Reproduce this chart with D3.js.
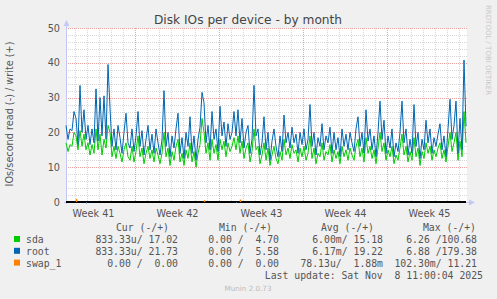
<!DOCTYPE html>
<html>
<head>
<meta charset="utf-8">
<script src="https://cdn.jsdelivr.net/npm/d3@7"></script>
<style>
  body { margin: 0; background: #f0f0f0; }
  svg { display: block; }
  text { white-space: pre; }
</style>
</head>
<body>
<script>
// chart data (one point every 4 hours)
var startTime = Date.UTC(2025, 9, 6, 6, 0);
var stepHours = 4;

var sdaWrite = [17,14.5,16.5,16,20,19,15,20.5,16,19.5,15,17,13.5,16.5,14,21,15,19.5,13.5,18,
  15.5,22,20,13,16,12.5,16,14,11.5,15,17,13,12,16,11.5,14.5,19,13,15.5,11,
  14,16,12.5,15,11.5,15.5,13.5,11,14,20,13,15.5,10.5,14.5,12,16,18,11.5,14,10.5,
  15,12.5,17,11.5,14.5,10,14,16.5,24,20,14,17,12,18,14,16.5,12,18,15,17.5,
  13,17,14.5,16,18.5,15,19,14,17.5,12.5,15.5,17,11.5,14.5,21,15,16,11,13.5,17,
  12,15.5,10.5,13.5,16,12.5,11,14.5,12,18,13.5,15.5,12.5,16.5,14,15,11.5,15.5,13,16,
  12,14,19,12.5,15.5,11,14,13,17,12,14.5,13.5,16.5,11.5,15,12.5,14.5,11,16,13,
  15,12,15.5,13.5,12,16,18,13,15.5,11.5,18.5,14,16,12.5,15,11,15.5,20,14.5,17,
  12,15,13,16,11,13.5,12,15.5,19.5,13.5,16,11.5,14.5,12,18.5,13,15.5,10.5,14.5,12.5,
  17,14,16,12,15,13,15.5,17,12.5,15,11.5,16,20,14.5,17,20,12,17.5,13,26,17.02];

var rootWrite = [22,18,21,20.5,26,24,16.5,33.5,20,26.5,18,22,16.5,21,17,32.5,17.5,30,19,30.5,
  18,39.5,27,16,21,15,22,18.5,14,20,25.5,17,15.5,21,14.5,19,26,16,20.5,13.5,
  18,22,15,19.5,14,21,17,13.5,18,32,16,20,13,19,15.5,21,25.5,14,18.5,12.5,
  20,16,24.5,14,19,12,18,21.5,31.5,28.5,17,22,15,26,18,21,14.5,27.5,19,23,
  16,22.5,18,20,26,19,26.5,17,24,15.5,20,22,14,18,33.5,19,21,13.5,17,24.5,
  15,20,12,17.5,21,16,13,19,14.5,25,17,20,15.5,21.5,17,19.5,14,20,16.5,21,
  15,18,28,16,20,13.5,18.5,16,22.5,15,19,17,21.5,14,20,15,18.5,13,21,16,
  19.5,15,20,17,14.5,21,24.5,16,20,14,26.5,17.5,21,15,19,13,20,29,18,23.5,
  14,19,15.5,21,13,17,14.5,20,29,17,21,13.5,18,14,28,16,20,12.5,18,15,
  23.5,17,21,14,18.5,16,19.5,22.5,15,19,13,21,29.5,18,22,29,14,24,15,40.8,21.73];

// swap_1 writes: only a few tiny blips, [point index, value]
var swapBlips = [[5, 0.9], [69, 0.5], [87, 0.7]];
// root reads: tiny dips below zero, [point index, value]
var rootReadBlips = [[10, 0.4], [85, 0.3]];

var yTicks = [0, 10, 20, 30, 40, 50];
var weekStarts = [Date.UTC(2025, 9, 12), Date.UTC(2025, 9, 19), Date.UTC(2025, 9, 26), Date.UTC(2025, 10, 2)];
var weekLabelTimes = [Date.UTC(2025, 9, 8, 12), Date.UTC(2025, 9, 15, 12), Date.UTC(2025, 9, 22, 12),
  Date.UTC(2025, 9, 29, 12), Date.UTC(2025, 10, 5, 12)];
var weekLabels = ["Week 41", "Week 42", "Week 43", "Week 44", "Week 45"];

var legendNames = ["sda", "root", "swap_1"];
var legendColors = ["#00cc00", "#0066b3", "#ff8000"];
var legendHeaders = ["Cur (-/+)", "Min (-/+)", "Avg (-/+)", "Max (-/+)"];
var legendValues = [
  ["833.33u/ 17.02", "0.00 /  4.70", "6.00m/ 15.18", "6.26 /100.68"],
  ["833.33u/ 21.73", "0.00 /  5.58", "6.17m/ 19.22", "6.88 /179.38"],
  ["0.00 /  0.00", "0.00 /  0.00", "78.13u/  1.88m", "102.30m/ 11.21"]
];

var svgWidth = 497, svgHeight = 299;
var margin = { top: 28, left: 66, right: 30, bottom: 97 };
var width = 401;
var height = 174;

var svg = d3.select("body").append("svg")
  .attr("width", svgWidth)
  .attr("height", svgHeight);

svg.append("rect").attr("width", svgWidth).attr("height", svgHeight).attr("fill", "#f0f0f0");

var x = d3.scaleUtc()
  .domain([startTime, Date.UTC(2025, 10, 8, 16)])
  .range([margin.left, margin.left + width]);
var y = d3.scaleLinear()
  .domain([0, 50])
  .range([margin.top + height, margin.top]);

// plot canvas
svg.append("rect")
  .attr("x", margin.left).attr("y", margin.top)
  .attr("width", width).attr("height", height)
  .attr("fill", "#ffffff");

// minor grid
var days = d3.utcDay.range(new Date(startTime), new Date(Date.UTC(2025, 10, 8, 16)));
svg.append("g").selectAll("line").data(days).enter().append("line")
  .attr("x1", d => x(d) + 0.5).attr("x2", d => x(d) + 0.5)
  .attr("y1", margin.top).attr("y2", margin.top + height)
  .attr("stroke", "#d6d6d6").attr("stroke-dasharray", "1,1");
svg.append("g").selectAll("line").data(d3.range(2, 50, 2)).enter().append("line")
  .attr("x1", margin.left).attr("x2", margin.left + width)
  .attr("y1", d => Math.round(y(d)) + 0.5).attr("y2", d => Math.round(y(d)) + 0.5)
  .attr("stroke", "#d6d6d6").attr("stroke-dasharray", "1,1");

// major grid
svg.append("g").selectAll("line").data(weekStarts).enter().append("line")
  .attr("x1", d => x(d) + 0.5).attr("x2", d => x(d) + 0.5)
  .attr("y1", margin.top).attr("y2", margin.top + height)
  .attr("stroke", "#e8a0a0").attr("stroke-dasharray", "1,1");
svg.append("g").selectAll("line").data(yTicks.slice(1)).enter().append("line")
  .attr("x1", margin.left).attr("x2", margin.left + width)
  .attr("y1", d => Math.round(y(d)) + 0.5).attr("y2", d => Math.round(y(d)) + 0.5)
  .attr("stroke", "#e8a0a0").attr("stroke-dasharray", "1,1");

// axes
var yAxis = d3.axisLeft(y).tickValues(yTicks).tickSize(0).tickPadding(6);
svg.append("g")
  .attr("transform", "translate(" + margin.left + ",0)")
  .call(yAxis)
  .call(g => g.select(".domain").remove())
  .selectAll("text")
  .attr("font-family", "DejaVu Sans").attr("font-size", "9.7px").attr("fill", "#555");

var xAxis = d3.axisBottom(x).tickValues(weekLabelTimes).tickSize(0).tickPadding(8)
  .tickFormat((d, i) => weekLabels[i]);
svg.append("g")
  .attr("transform", "translate(0," + (margin.top + height) + ")")
  .call(xAxis)
  .call(g => g.select(".domain").remove())
  .selectAll("text")
  .attr("font-family", "DejaVu Sans").attr("font-size", "9.7px").attr("fill", "#555");

// axis lines with arrows
var axisColor = "#c4c8f4";
svg.append("line")
  .attr("x1", margin.left + 0.5).attr("x2", margin.left + 0.5)
  .attr("y1", margin.top - 4).attr("y2", margin.top + height + 2)
  .attr("stroke", axisColor);
svg.append("path")
  .attr("d", "M" + (margin.left - 2.5) + "," + (margin.top - 2) + "L" + (margin.left + 0.5) + "," + (margin.top - 8) + "L" + (margin.left + 3.5) + "," + (margin.top - 2) + "Z")
  .attr("fill", axisColor);
svg.append("line")
  .attr("x1", margin.left - 2).attr("x2", margin.left + width + 4)
  .attr("y1", margin.top + height + 0.5).attr("y2", margin.top + height + 0.5)
  .attr("stroke", axisColor);
svg.append("path")
  .attr("d", "M" + (margin.left + width + 2) + "," + (margin.top + height - 2.5) + "L" + (margin.left + width + 8) + "," + (margin.top + height + 0.5) + "L" + (margin.left + width + 2) + "," + (margin.top + height + 3.5) + "Z")
  .attr("fill", axisColor);

// series
function timeAt(i) { return startTime + i * stepHours * 3600 * 1000; }
var line = d3.line()
  .x((d, i) => x(timeAt(i)))
  .y(d => y(d));

svg.append("path").datum(sdaWrite)
  .attr("d", line).attr("fill", "none")
  .attr("stroke", legendColors[0]).attr("stroke-width", 1);
svg.append("path").datum(rootWrite)
  .attr("d", line).attr("fill", "none")
  .attr("stroke", legendColors[1]).attr("stroke-width", 1);

// zero line (reads are ~0)
svg.append("line")
  .attr("x1", margin.left).attr("x2", margin.left + width - 1)
  .attr("y1", y(0)).attr("y2", y(0))
  .attr("stroke", "#000").attr("stroke-width", 2);

svg.append("g").selectAll("line").data(swapBlips).enter().append("line")
  .attr("x1", d => x(timeAt(d[0])) + 0.5).attr("x2", d => x(timeAt(d[0])) + 0.5)
  .attr("y1", y(0)).attr("y2", d => y(d[1]))
  .attr("stroke", legendColors[2]).attr("stroke-width", 1.5);
svg.append("g").selectAll("line").data(rootReadBlips).enter().append("line")
  .attr("x1", d => x(timeAt(d[0])) + 0.5).attr("x2", d => x(timeAt(d[0])) + 0.5)
  .attr("y1", y(0)).attr("y2", d => y(0) + (y(0) - y(d[1])))
  .attr("stroke", legendColors[1]).attr("stroke-width", 1);

// title and labels
svg.append("text")
  .attr("x", 248).attr("y", 24)
  .attr("text-anchor", "middle")
  .attr("font-family", "DejaVu Sans").attr("font-size", "12.2px").attr("fill", "#444")
  .text("Disk IOs per device - by month");

svg.append("text")
  .attr("transform", "translate(13," + (margin.top + height / 2 - 1) + ") rotate(-90)")
  .attr("text-anchor", "middle")
  .attr("font-family", "DejaVu Sans").attr("font-size", "9.7px").attr("fill", "#555")
  .text("IOs/second read (-) / write (+)");

svg.append("text")
  .attr("transform", "translate(486,5) rotate(90)")
  .attr("font-family", "DejaVu Sans").attr("font-size", "7px").attr("fill", "#c8c8c8")
  .text("RRDTOOL / TOBI OETIKER");

// legend
var mono = "DejaVu Sans Mono";
var colEnds = [178, 279, 383, 477];
var headerEnds = [169, 272, 374, 476];
svg.append("g").selectAll("text").data(legendHeaders).enter().append("text")
  .attr("x", (d, i) => headerEnds[i]).attr("y", 231)
  .attr("text-anchor", "end")
  .attr("font-family", mono).attr("font-size", "9.8px").attr("fill", "#555")
  .text(d => d);

legendNames.forEach(function(name, r) {
  var rowY = 243 + r * 11.8;
  svg.append("rect")
    .attr("x", 14).attr("y", rowY - 7).attr("width", 6).attr("height", 6)
    .attr("fill", legendColors[r]);
  svg.append("text")
    .attr("x", 26).attr("y", rowY)
    .attr("font-family", mono).attr("font-size", "9.8px").attr("fill", "#555")
    .text(name);
  legendValues[r].forEach(function(v, c) {
    svg.append("text")
      .attr("x", colEnds[c]).attr("y", rowY)
      .attr("text-anchor", "end")
      .attr("font-family", mono).attr("font-size", "9.8px").attr("fill", "#555")
      .text(v);
  });
});

svg.append("text")
  .attr("x", 483).attr("y", 279)
  .attr("text-anchor", "end")
  .attr("font-family", mono).attr("font-size", "9.8px").attr("fill", "#555")
  .text("Last update: Sat Nov  8 11:00:04 2025");

svg.append("text")
  .attr("x", 248).attr("y", 291)
  .attr("text-anchor", "middle")
  .attr("font-family", "DejaVu Sans").attr("font-size", "7.2px").attr("fill", "#bbb")
  .text("Munin 2.0.73");
</script>
</body>
</html>
